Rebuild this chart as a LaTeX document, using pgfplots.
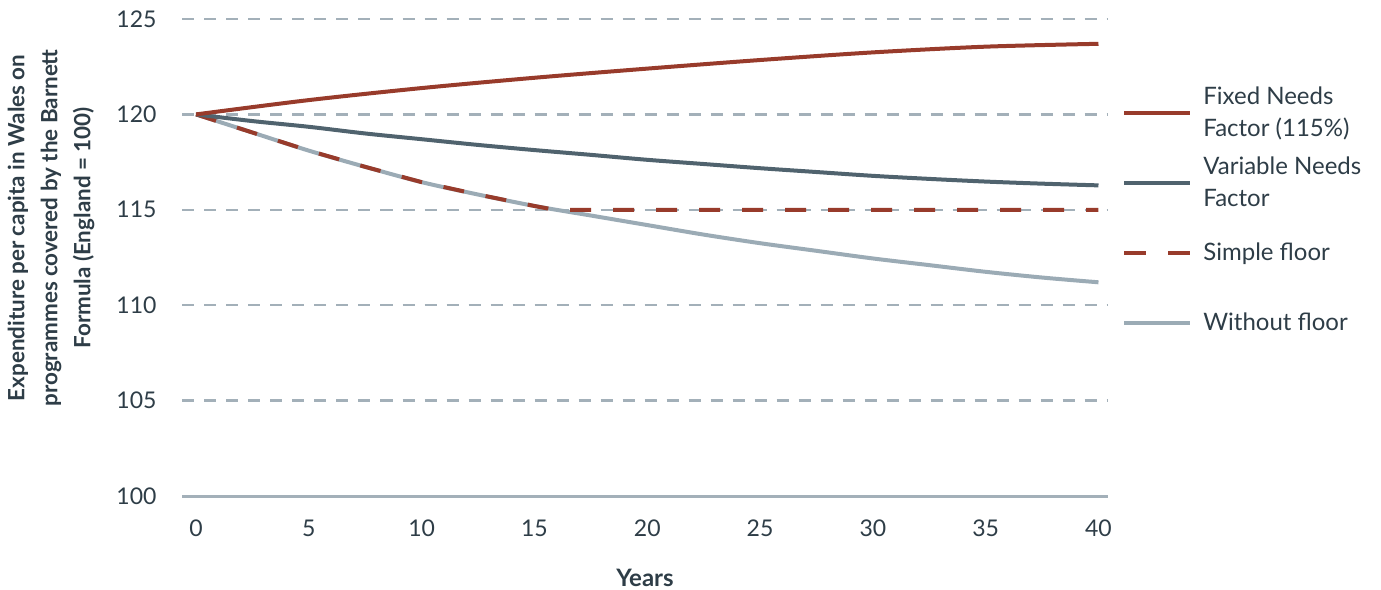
\documentclass[border=0pt]{standalone}
\usepackage{fontspec}
\setmainfont{Lato}
\usepackage{pgfplots}
\pgfplotsset{compat=1.18}
\definecolor{rust}{HTML}{983B2B}
\definecolor{slate}{HTML}{50636E}
\definecolor{pale}{HTML}{9BABB5}
\definecolor{gridc}{HTML}{A3B0B9}
\definecolor{textc}{HTML}{2E3D47}

\begin{document}
\color{textc}
\begin{tikzpicture}
\path[use as bounding box] (-91.25bp,-47bp) rectangle (599.25bp,248bp);
\begin{axis}[
  scale only axis,
  width=462.5bp, height=238.5bp,
  xmin=-0.6, xmax=40.4, ymin=100, ymax=125,
  axis line style={draw=none},
  tick style={draw=none},
  xtick={0,5,...,40},
  ytick={105,110,...,125},
  extra y ticks={100},
  extra y tick style={major grid style={solid, draw=gridc, line width=1.5bp}},
  ymajorgrids,
  major grid style={draw=gridc, line width=1.25bp, dash pattern=on 6bp off 5bp},
  /pgf/number format/assume math mode=true,
  tick label style={font=\fontsize{11.5bp}{14bp}\selectfont},
  yticklabel style={xshift=-9.5bp},
  xticklabel style={yshift=-8.5bp},
  xlabel={Years},
  xlabel style={font=\bfseries\fontsize{12bp}{14bp}\selectfont,
    at={(axis description cs:0.5,-0.172)}, anchor=center},
  ylabel={Expenditure per capita in Wales on\\programmes covered by the Barnett\\Formula (England = 100)},
  ylabel style={align=center, font=\bfseries\fontsize{11.2bp}{16.5bp}\selectfont,
    at={(axis description cs:-0.1422,0.562)}, anchor=center},
  legend cell align=left,
  legend image code/.code={\draw[#1] (0bp,0bp) -- (33bp,0bp); \path (36.5bp,0bp);},
  legend style={draw=none, fill=none, at={(1,1)}, anchor=north west,
    xshift=4.25bp, yshift=-27.5bp, row sep=0bp,
    font=\fontsize{12bp}{16bp}\selectfont,
    nodes={align=left, minimum height=35bp}},
]
\addlegendimage{rust, line width=2bp}
\addlegendentry{Fixed Needs\\Factor (115\%)}
\addlegendimage{slate, line width=2bp}
\addlegendentry{Variable Needs\\Factor}
\addlegendimage{rust, line width=2bp, dash pattern=on 11bp off 11bp}
\addlegendentry{Simple floor}
\addlegendimage{pale, line width=2bp}
\addlegendentry{Without floor}

\addplot[pale, line width=2bp, smooth, forget plot] coordinates {
  (0,120) (2.5,119.05) (5,118.1) (7.5,117.25) (10,116.45) (12.5,115.8)
  (15,115.2) (17.5,114.7) (20,114.2) (22.5,113.7) (25,113.25)
  (27.5,112.85) (30,112.45) (32.5,112.1) (35,111.75) (37.5,111.45) (40,111.2)
};
\addplot[rust, line width=2bp, dash pattern=on 10.5bp off 11bp, forget plot] coordinates {
  (0,120) (2.5,119.05) (5,118.1) (7.5,117.25) (10,116.45) (12.5,115.8)
  (15,115.2) (15.9,115) (40,115)
};
\addplot[slate, line width=2bp, smooth, forget plot] coordinates {
  (0,120) (2.5,119.65) (5,119.35) (7.5,119.0) (10,118.7) (12.5,118.4)
  (15,118.13) (17.5,117.88) (20,117.62) (22.5,117.4) (25,117.18)
  (27.5,116.98) (30,116.78) (32.5,116.62) (35,116.48) (37.5,116.37) (40,116.28)
};
\addplot[rust, line width=2bp, smooth, forget plot] coordinates {
  (0,120) (5,120.75) (10,121.38) (15,121.92) (20,122.4) (25,122.85)
  (30,123.25) (35,123.55) (40,123.7)
};
\end{axis}
\end{tikzpicture}
\end{document}
